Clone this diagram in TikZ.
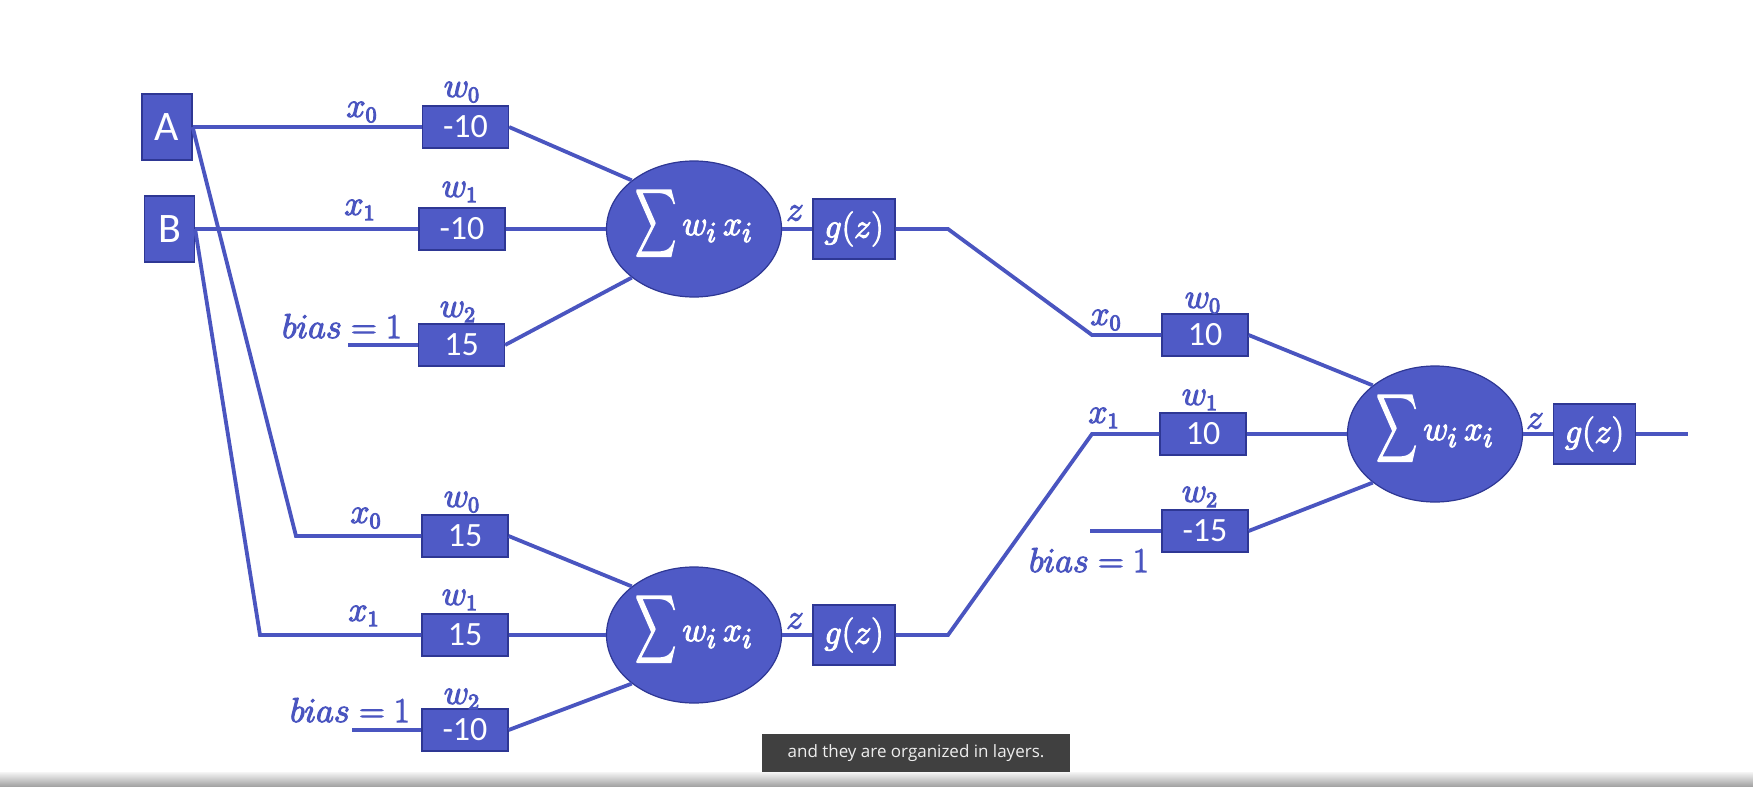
\documentclass[tikz,border=0pt]{standalone}
\usepackage{amsmath}
\usepackage{fontspec}
\usepackage{graphicx}
\usetikzlibrary{shapes.geometric}
\newfontfamily\calib{Carlito}
\newfontfamily\capfont{Open Sans}
\definecolor{nnblue}{HTML}{4F5AC6}
\definecolor{nnedge}{HTML}{2E3794}
\definecolor{nnline}{HTML}{4A55C0}
\definecolor{captbg}{HTML}{404040}
\definecolor{capttext}{HTML}{EEEEEE}
\newcommand{\sumwx}{\scalebox{0.82}[1.37]{$\displaystyle\sum$}\,$w_i\,x_i$}
\newcommand{\fbon}{\special{pdf:literal direct 2 Tr 0.55 w}}
\newcommand{\fboff}{\special{pdf:literal direct 0 Tr}}
\tikzset{
  wbox/.style={draw=nnedge, line width=0.6pt, fill=nnblue, text=white,
    minimum width=43pt, minimum height=21pt, inner sep=0pt,
    font=\calib\fontsize{17}{20}\selectfont},
  inbox/.style={draw=nnedge, line width=0.6pt, fill=nnblue, text=white,
    minimum width=25pt, minimum height=33pt, inner sep=0pt,
    font=\calib\fontsize{21}{24}\selectfont},
  sumnode/.style={ellipse, draw=nnedge, line width=0.6pt, fill=nnblue, text=white,
    minimum width=87.5pt, minimum height=68pt, inner sep=0pt,
    text height=16pt, text depth=10pt,
    font=\fontsize{19}{22}\selectfont,
    execute at begin node=\fbon, execute at end node=\fboff},
  gbox/.style={draw=nnedge, line width=0.6pt, fill=nnblue, text=white,
    minimum width=41pt, minimum height=30pt, inner sep=0pt,
    font=\fontsize{17.5}{20}\selectfont,
    execute at begin node=\fbon, execute at end node=\fboff},
  lab/.style={text=nnline, inner sep=0pt, font=\fontsize{16}{19}\selectfont,
    execute at begin node=\fbon, execute at end node=\fboff},
  wire/.style={draw=nnline, line width=1.9pt},
}
\begin{document}
\begin{tikzpicture}[x=0.5pt, y=-0.5pt]
\fill[white] (0,0) rectangle (1753,787);
\useasboundingbox (0,0) rectangle (1753,787);
\shade[top color=black!4, bottom color=black!38] (0,772) rectangle (1753,787);

% input nodes
\node[inbox] (A) at (167,127) {A};
\node[inbox] (B) at (169.5,229) {B};

% hidden neuron 1
\node[wbox] (b11) at (465.5,127) {-10};
\node[wbox] (b12) at (462,229) {-10};
\node[wbox] (b13) at (461.5,345) {15};
\node[sumnode] (s1) at (694,229) {\sumwx};
\node[gbox] (g1) at (854,229) {$g(z)$};

% hidden neuron 2
\node[wbox] (b21) at (465,536) {15};
\node[wbox] (b22) at (465,635) {15};
\node[wbox] (b23) at (465,730) {-10};
\node[sumnode] (s2) at (694,635) {\sumwx};
\node[gbox] (g2) at (854,635) {$g(z)$};

% output neuron
\node[wbox] (b31) at (1205,335) {10};
\node[wbox] (b32) at (1203,434) {10};
\node[wbox] (b33) at (1205,531) {-15};
\node[sumnode] (s3) at (1435,434) {\sumwx};
\node[gbox] (g3) at (1594.5,434) {$g(z)$};

% coordinates
\coordinate (cA) at (296,536);
\coordinate (cB) at (260,635);
\coordinate (bias1) at (348,345);
\coordinate (bias2) at (352,730);
\coordinate (bias3) at (1090,531);
\coordinate (k1) at (948,229);
\coordinate (m1) at (1092,335);
\coordinate (k2) at (948,635);
\coordinate (m2) at (1092,434);
\coordinate (out) at (1688,434);

% wires
\draw[wire] (A.east) -- (b11.west);
\draw[wire] (A.east) -- (cA) -- (b21.west);
\draw[wire] (B.east) -- (b12.west);
\draw[wire] (B.east) -- (cB) -- (b22.west);
\draw[wire] (bias1) -- (b13.west);
\draw[wire] (bias2) -- (b23.west);
\draw[wire] (bias3) -- (b33.west);

\draw[wire] (b11.east) -- (s1.142);
\draw[wire] (b12.east) -- (s1.west);
\draw[wire] (b13.east) -- (s1.218);
\draw[wire] (s1.east) -- (g1.west);

\draw[wire] (b21.east) -- (s2.142);
\draw[wire] (b22.east) -- (s2.west);
\draw[wire] (b23.east) -- (s2.218);
\draw[wire] (s2.east) -- (g2.west);

\draw[wire] (g1.east) -- (k1) -- (m1) -- (b31.west);
\draw[wire] (g2.east) -- (k2) -- (m2) -- (b32.west);

\draw[wire] (b31.east) -- (s3.142);
\draw[wire] (b32.east) -- (s3.west);
\draw[wire] (b33.east) -- (s3.218);
\draw[wire] (s3.east) -- (g3.west);
\draw[wire] (g3.east) -- (out);

% labels neuron 1
\node[lab] (l11x) at (362,112) {$x_0$};
\node[lab] (l11w) at (462,92) {$w_0$};
\node[lab] (l12x) at (360,210) {$x_1$};
\node[lab] (l12w) at (460,192) {$w_1$};
\node[lab] (l13b) at (342,326) {$bias=1$};
\node[lab] (l13w) at (458,312) {$w_2$};
\node[lab] (l1z) at (795,213) {$z$};

% labels neuron 2
\node[lab] (l21x) at (366,518) {$x_0$};
\node[lab] (l21w) at (462,502) {$w_0$};
\node[lab] (l22x) at (364,616) {$x_1$};
\node[lab] (l22w) at (460,600) {$w_1$};
\node[lab] (l23b) at (350,710) {$bias=1$};
\node[lab] (l23w) at (462,699) {$w_2$};
\node[lab] (l2z) at (795,621) {$z$};

% labels output neuron
\node[lab] (l31x) at (1106,320) {$x_0$};
\node[lab] (l31w) at (1203,303) {$w_0$};
\node[lab] (l32x) at (1104,418) {$x_1$};
\node[lab] (l32w) at (1200,400) {$w_1$};
\node[lab] (l33w) at (1200,497) {$w_2$};
\node[lab] (l33b) at (1089,560) {$bias=1$};
\node[lab] (l3z) at (1535,421) {$z$};

% caption
\node[fill=captbg, text=capttext, minimum width=154pt, minimum height=19pt, inner sep=0pt,
  font=\capfont\fontsize{8.5}{10}\selectfont] (cap) at (916,753) {and they are organized in layers.};
\end{tikzpicture}
\end{document}
